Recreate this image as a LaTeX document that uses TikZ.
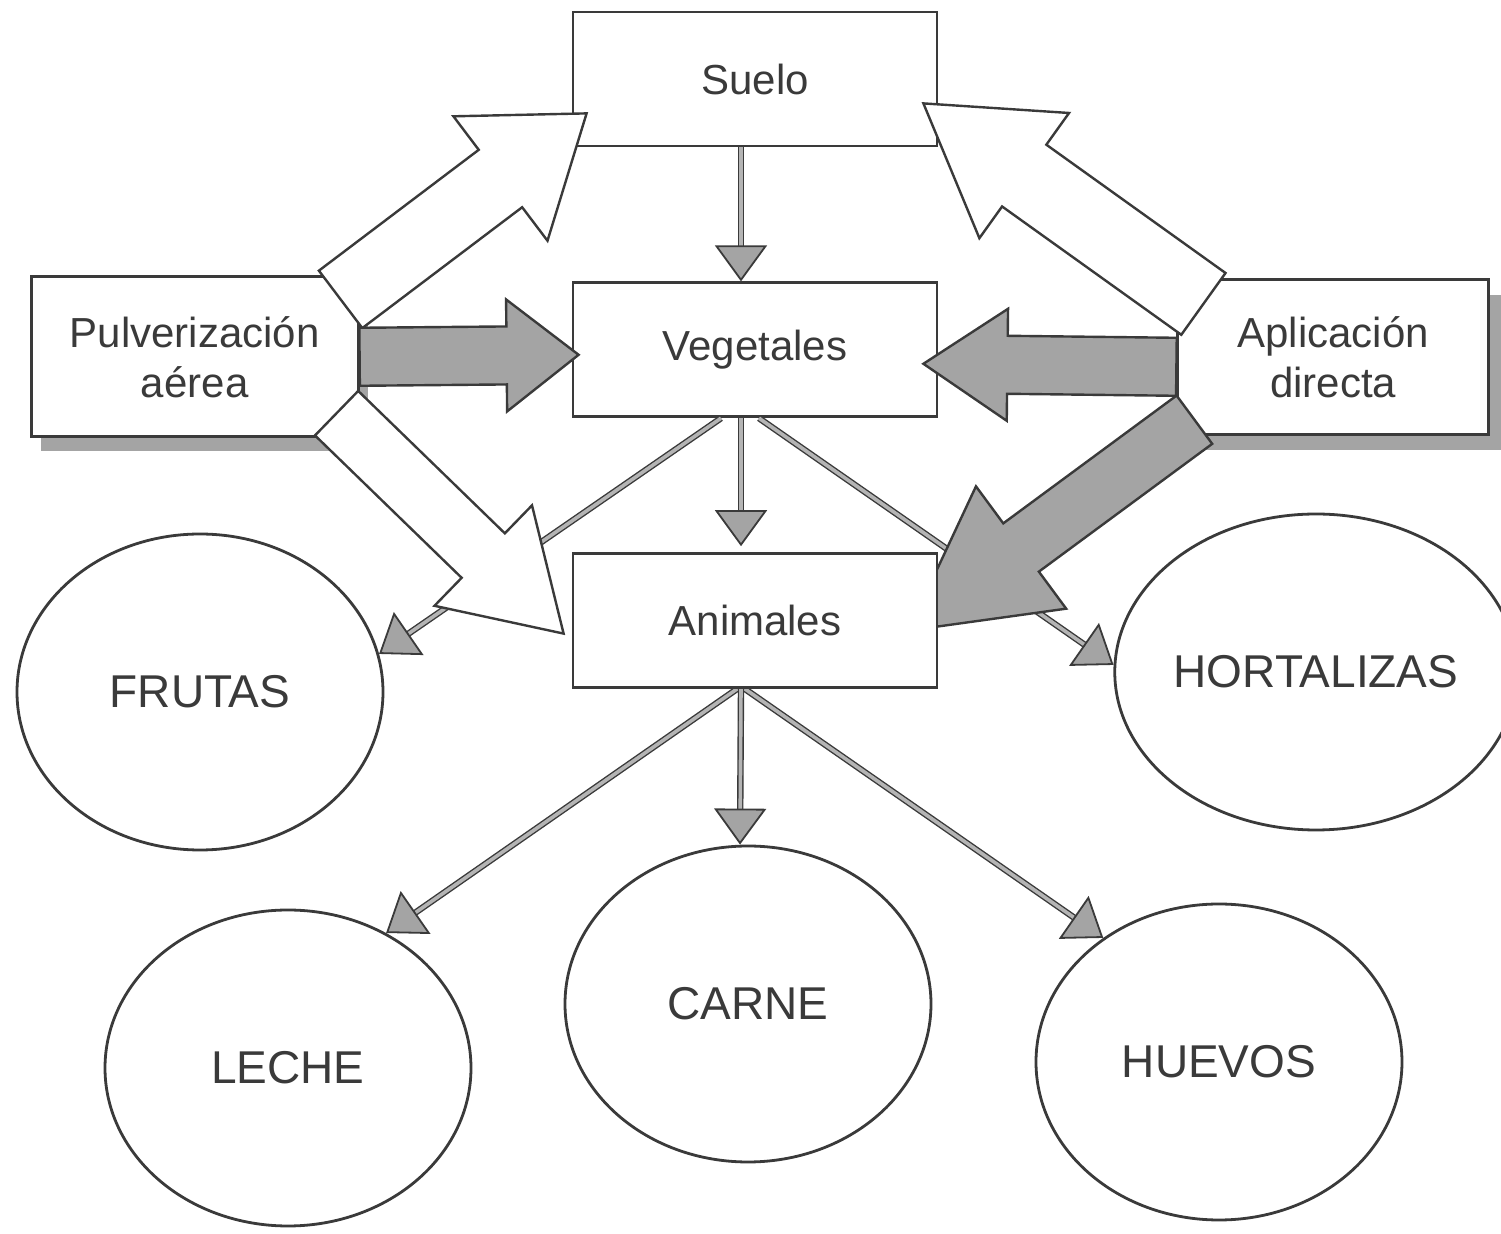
\documentclass[tikz,border=0pt]{standalone}
\usepackage{fontspec}
\setmainfont{Liberation Sans}
\usetikzlibrary{arrows.meta,positioning,shapes.geometric,calc,shadows}
\definecolor{ink}{HTML}{3A3A3A}
\definecolor{shade}{HTML}{A4A4A4}
\definecolor{linkgray}{HTML}{B4B4B4}
\pgfdeclarelayer{front}
\pgfsetlayers{main,front}
% fat outlined arrow: [style]{base}{tip}{half shaft}{half head}{head length}
\newcommand{\fatarrow}[6][]{%
 \coordinate (fa-head) at ($(#3)!#6!(#2)$);
 \filldraw[#1] ($(#2)!#4!90:(#3)$) -- ($(fa-head)!#4!-90:(#2)$) -- ($(fa-head)!#5!-90:(#2)$) -- (#3)
  -- ($(fa-head)!#5!90:(#2)$) -- ($(fa-head)!#4!90:(#2)$) -- ($(#2)!#4!-90:(#3)$) -- cycle;}

\begin{document}
\begin{tikzpicture}[x=0.5pt,y=-0.5pt,node distance=67pt,
 box/.style={draw=ink,fill=white,line width=1.4pt,minimum width=182pt,minimum height=67pt,inner sep=0pt,text=ink,font=\fontsize{21}{25}\selectfont},
 sidebox/.style={box,align=center},
 oval/.style={ellipse,draw=ink,fill=white,line width=1.4pt,minimum width=183pt,minimum height=158pt,inner sep=0pt,text=ink,font=\fontsize{23}{27}\selectfont},
 link/.style={draw=ink,line width=.7pt,double=linkgray,double distance=1.8pt,-{Triangle[length=18pt,width=26pt,fill=shade,line width=.9pt]}},
 whitearrow/.style={draw=ink,fill=white,line width=1.2pt},
 grayarrow/.style={draw=ink,fill=shade,line width=1.2pt}]
\useasboundingbox (0,0) rectangle (1501,1234);
\node[box](suelo) at (755,79){Suelo};
\node[box,below=of suelo](vege){Vegetales};
\node[sidebox,minimum width=163.5pt,minimum height=80pt,left=106pt of vege,yshift=-3.5pt,
 general shadow={fill=shade,shadow xshift=5pt,shadow yshift=-7pt}](pulv){Pulverización\\aérea};
\node[sidebox,minimum width=155.5pt,minimum height=77.5pt,right=119pt of vege,yshift=-3.5pt,
 general shadow={fill=shade,shadow xshift=7.5pt,shadow yshift=-8pt}](aplic){Aplicación\\directa};
\begin{pgfonlayer}{front}
\node[box,below=of vege](anim){Animales};
\end{pgfonlayer}
\node[oval](frutas) at (200,692){FRUTAS};
\node[oval](hortal) at (1316,672){HORTALIZAS};
\node[oval](leche) at (288,1068){LECHE};
\node[oval](carne) at (748,1004){CARNE};
\node[oval](huevos) at (1219,1062){HUEVOS};
\draw[link]([xshift=-7pt]suelo.south)--([xshift=-7pt]vege.north);
\draw[link,shorten >=3pt]([xshift=-7pt]vege.south)--([xshift=-7pt]anim.north);
\draw[link]([xshift=-17pt]vege.south)--(frutas.12);
\draw[link]([xshift=2pt]vege.south)--(hortal.178);
\draw[link]([xshift=-7pt]anim.south)--([xshift=-4pt]carne.north);
\draw[link]([xshift=-9pt]anim.south)--(leche.54);
\draw[link]([xshift=-5pt]anim.south)--(huevos.133);
\coordinate (pulv-up) at ($(pulv.north east)+(-19,24)$);
\coordinate (pulv-down) at ($(pulv.south east)+(-23,-25)$);
\coordinate (aplic-up) at ($(aplic.north west)+(27,26)$);
\coordinate (aplic-mid) at ($(aplic.west)+(0,10)$);
\coordinate (aplic-down) at ($(aplic.south west)+(18,-16)$);
\coordinate (suelo-l) at ($(suelo.south west)+(15,-34)$);
\coordinate (suelo-r) at ($(suelo.south east)+(-15,-44)$);
\coordinate (vege-l) at ($(vege.west)+(7,5)$);
\coordinate (vege-r) at ($(vege.east)+(-15,14)$);
\coordinate (anim-l) at ($(anim.west)+(-8,13)$);
\coordinate (anim-r) at ($(anim.east)+(-30,10)$);
\fatarrow[whitearrow]{pulv-up}{suelo-l}{18pt}{39pt}{54pt}
\fatarrow[whitearrow]{pulv-down}{anim-l}{15.5pt}{35pt}{56pt}
\fatarrow[grayarrow]{pulv.east}{vege-l}{14.5pt}{28pt}{36pt}
\fatarrow[whitearrow]{aplic-up}{suelo-r}{19pt}{38.5pt}{62pt}
\fatarrow[grayarrow]{aplic-mid}{vege-r}{14.5pt}{28pt}{42pt}
\fatarrow[grayarrow]{aplic-down}{anim-r}{15pt}{38pt}{70pt}
\end{tikzpicture}
\end{document}
